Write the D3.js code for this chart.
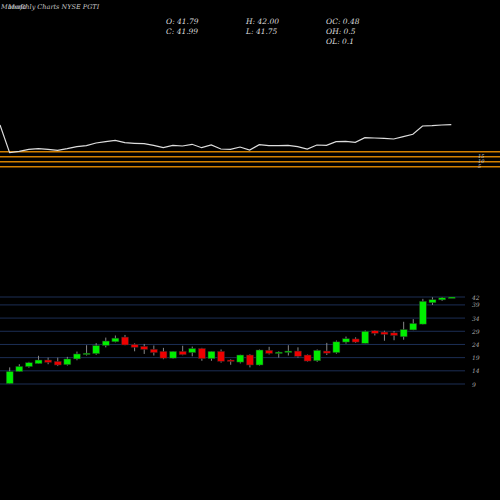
<!DOCTYPE html>
<html>
<head>
<meta charset="utf-8">
<script src="https://cdn.jsdelivr.net/npm/d3@7/dist/d3.min.js"></script>
<style>
  body { margin: 0; background: #000; }
  text { font-family: "DejaVu Serif", serif; font-style: italic; }
</style>
</head>
<body>
<script>

// DATI DEL GRAFICO
//
var opens  = [9.1,13.7,15.6,16.7,18.1,17.6,16.3,18.5,20.2,20.5,23.6,25,26.8,24,23.3,22.2,21.4,18.8,21.4,20.9,22.5,18.6,21.4,18.1,17.3,20,16.2,21.8,20.6,21.1,21.5,20,17.8,21.5,20.9,24.9,26.1,24.4,29.2,28.7,28.4,26.9,29.5,31.7,39.8,40.9,41.79];
var closes = [13.8,15.7,17.1,18.1,17.2,16.2,18.5,20.4,20.7,23.6,25.3,26.4,23.8,22.9,22.1,20.9,18.8,21.4,20.1,22.5,18.6,21.4,17.6,17.6,20,16.2,21.9,20.6,21.1,21.5,19.5,17.7,21.8,20.7,25,26.2,24.9,29,28.2,27.8,27.4,29.7,32,40.4,41,41.7,41.99];
var highs  = [15.3,16.5,17.4,19.7,19,19,19.3,21.3,23.7,24.5,26.6,27.4,27.6,24.4,24.2,23.6,22.7,21.5,23.5,23.2,22.7,21.4,22.1,18.4,20.1,20.3,22.1,23.1,21.4,23.7,22.9,20.2,22.1,24.6,25.5,27,26.7,29.3,29.4,29.2,29.1,32.6,33.6,41.3,41.9,42,42];
var lows   = [9,13.7,15.2,16.7,16.5,15.8,16,18,19.8,20.1,22.9,24.8,23.7,21.4,20.4,19.8,18.4,18.6,19.9,19.5,17.8,17.8,17.1,16.3,16.8,15.3,16,20.2,19,19.8,19,17.5,17.4,20,20.5,24.3,24.6,24.4,27.4,25.4,25.6,25.8,29.4,31.6,39,40.5,41.75];
var indicator = [35,7.3,8.7,10.7,11.3,10.7,9.7,11.3,13.3,14.3,17,18.3,19.7,17.3,16.7,16.3,14.7,12.3,14.7,14,15.7,12.3,15,11,10.7,13,10,15.3,14.3,14.3,14.7,13.3,11,15,14.7,18.3,18.7,17.7,22.3,22,21.7,21,23.3,25.7,34,34.3,35,35.3];
var tickValues = [9,14,19,24,29,34,39,42];
var bandLevels = [0,5,10,15];

var width = 500, height = 500;

var svg = d3.select("body").append("svg")
  .attr("width", width)
  .attr("height", height)
  .style("background", "#000");

// SCALE
//
var x = d3.scaleLinear().domain([0, opens.length - 1]).range([9.7, 451.7]);
var xi = d3.scaleLinear().domain([0, indicator.length - 1]).range([0, 451.3]);
var y = d3.scaleLinear().domain([9, 42]).range([384, 297]);
var yi = d3.scaleLinear().domain([0, 160]).range([160, 0]);
var yb = d3.scaleLinear().domain([0, 15]).range([166.7, 151.7]);

// GRIGLIA E ETICHETTE
//
svg.selectAll(".grid").data(tickValues).enter().append("line")
  .attr("x1", 0).attr("x2", 465)
  .attr("y1", d => y(d)).attr("y2", d => y(d))
  .attr("stroke", "#1c2e55").attr("stroke-width", 1);

svg.selectAll(".tick").data(tickValues).enter().append("text")
  .attr("x", 472).attr("y", d => y(d) + 2.5)
  .attr("fill", "#aaa").attr("font-size", 6)
  .text(d => d);

// CANDELE
//
var idx = d3.range(opens.length);
svg.selectAll(".wick").data(idx).enter().append("line")
  .attr("x1", i => x(i)).attr("x2", i => x(i))
  .attr("y1", i => y(highs[i])).attr("y2", i => y(lows[i]))
  .attr("stroke", "#888").attr("stroke-width", 1);

svg.selectAll(".body").data(idx).enter().append("rect")
  .attr("x", i => x(i) - 3.5).attr("width", 7)
  .attr("y", i => y(Math.max(opens[i], closes[i])))
  .attr("height", i => Math.max(1.5, Math.abs(y(opens[i]) - y(closes[i]))))
  .attr("fill", i => closes[i] >= opens[i] ? "#00ee00" : "#ee0000")
  .attr("stroke", "#222").attr("stroke-width", 0.5);

// BANDE ARANCIONI
//
svg.selectAll(".band").data(bandLevels).enter().append("line")
  .attr("x1", 0).attr("x2", width)
  .attr("y1", d => yb(d)).attr("y2", d => yb(d))
  .attr("stroke", "#d17f00").attr("stroke-width", 1.6);

svg.selectAll(".bandlbl").data(bandLevels.slice(1)).enter().append("text")
  .attr("x", 478).attr("y", d => yb(d) + 6)
  .attr("fill", "#ccc").attr("font-size", 5)
  .text(d => d);

// LINEA INDICATORE
//
svg.append("path")
  .datum(indicator)
  .attr("d", d3.line().x((d, i) => xi(i)).y(d => yi(d)))
  .attr("fill", "none").attr("stroke", "#ddd").attr("stroke-width", 1.2);

// INTESTAZIONE
//
svg.append("text").attr("x", 1).attr("y", 9).attr("fill", "#ccc").attr("font-size", 6.5)
  .text("Munafa");
svg.append("text").attr("x", 8).attr("y", 9).attr("fill", "#ccc").attr("font-size", 6.5)
  .text("Monthly Charts NYSE PGTI");

var info = [["O: 41.79", 166, 24], ["C: 41.99", 166, 34], ["H: 42.00", 246, 24], ["L: 41.75", 246, 34],
            ["OC: 0.48", 326, 24], ["OH: 0.5", 326, 34], ["OL: 0.1", 326, 44]];
svg.selectAll(".info").data(info).enter().append("text")
  .attr("x", d => d[1]).attr("y", d => d[2])
  .attr("fill", "#ddd").attr("font-size", 7.5)
  .text(d => d[0]);

</script>
</body>
</html>
